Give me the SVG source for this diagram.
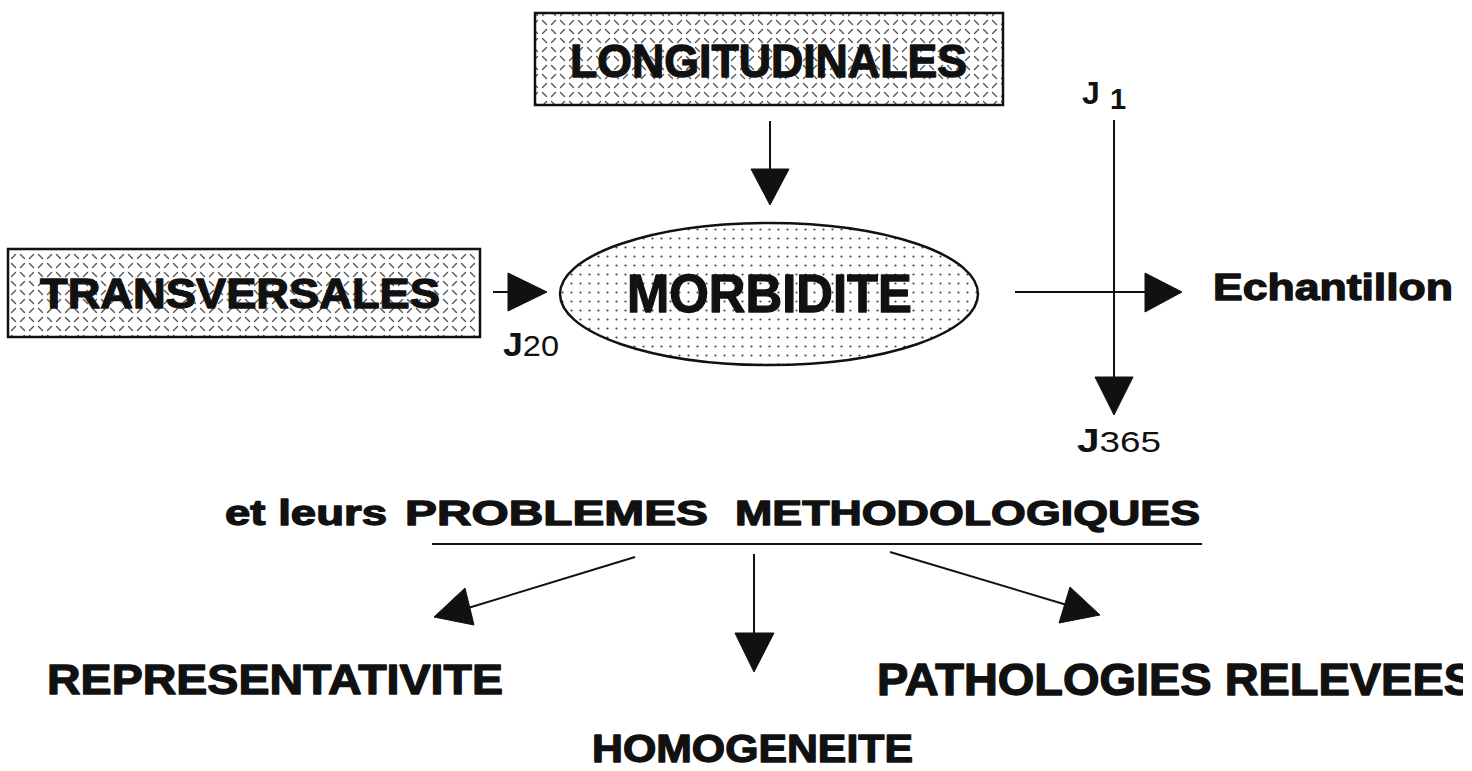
<svg xmlns="http://www.w3.org/2000/svg" width="1472" height="771" viewBox="0 0 1472 771">
<style>
.t{font-family:"Liberation Sans",Arial,sans-serif;font-weight:bold;fill:#111;stroke:#111;stroke-width:1.3;stroke-linejoin:round}
.j{font-family:"Liberation Sans",Arial,sans-serif;font-weight:bold;fill:#111}
.box{stroke:#111;stroke-width:2.5}
.ln{stroke:#111;stroke-width:2;fill:none}
.ah{fill:#111;stroke:#111;stroke-width:1;stroke-linejoin:miter}
</style>
<defs>
<pattern id="plate" width="18" height="18" patternUnits="userSpaceOnUse">
<rect width="18" height="18" fill="#fff"/>
<g stroke="#555" stroke-width="1.4" stroke-linecap="round">
<line x1="2.5" y1="2.5" x2="6.5" y2="6.5"/>
<line x1="15.5" y1="2.5" x2="11.5" y2="6.5"/>
<line x1="6.5" y1="11.5" x2="2.5" y2="15.5"/>
<line x1="11.5" y1="11.5" x2="15.5" y2="15.5"/>
</g>
</pattern>
<pattern id="dots" width="9" height="9" patternUnits="userSpaceOnUse">
<rect width="9" height="9" fill="#fff"/>
<circle cx="4.5" cy="4.5" r="1.1" fill="#444"/>
</pattern>
<clipPath id="edge"><rect x="0" y="0" width="1463" height="771"/></clipPath>
</defs>

<g id="longitudinales">
<rect class="box" x="535" y="13" width="468" height="92" fill="url(#plate)"/>
<text class="t" x="570" y="77" font-size="47" textLength="397" lengthAdjust="spacingAndGlyphs">LONGITUDINALES</text>
</g>

<g id="transversales">
<rect class="box" x="8" y="249" width="472" height="88" fill="url(#plate)"/>
<text class="t" x="40" y="308" font-size="43" textLength="400" lengthAdjust="spacingAndGlyphs">TRANSVERSALES</text>
</g>

<g id="morbidite">
<ellipse cx="769" cy="294" rx="209" ry="71" fill="url(#dots)" stroke="#111" stroke-width="2.5"/>
<text class="t" x="627" y="312" font-size="54" textLength="285" lengthAdjust="spacingAndGlyphs">MORBIDITE</text>
</g>

<g id="echantillon">
<text class="t" x="1213" y="300" font-size="36" textLength="240" lengthAdjust="spacingAndGlyphs">Echantillon</text>
</g>

<g id="labels-j">
<text class="j" x="503" y="356" font-size="33" textLength="56" lengthAdjust="spacingAndGlyphs">J<tspan font-weight="normal" font-size="30">20</tspan></text>
<text class="j" x="1082" y="104" font-size="32">J</text>
<text class="j" x="1110" y="109" font-size="29" font-weight="normal">1</text>
<text class="j" x="1077" y="452" font-size="33" textLength="84" lengthAdjust="spacingAndGlyphs">J<tspan font-weight="normal" font-size="30">365</tspan></text>
</g>

<g id="problemes">
<text class="t" x="225" y="525" font-size="35" textLength="162" lengthAdjust="spacingAndGlyphs">et leurs</text>
<text class="t" x="405" y="525" font-size="35" textLength="303" lengthAdjust="spacingAndGlyphs">PROBLEMES</text>
<text class="t" x="735" y="525" font-size="35" textLength="465" lengthAdjust="spacingAndGlyphs">METHODOLOGIQUES</text>
<line class="ln" x1="432" y1="544" x2="1202" y2="544"/>
</g>

<g id="representativite">
<text class="t" x="47" y="694" font-size="43" textLength="456" lengthAdjust="spacingAndGlyphs">REPRESENTATIVITE</text>
</g>

<g id="pathologies" clip-path="url(#edge)">
<text class="t" x="877" y="695" font-size="44" textLength="598" lengthAdjust="spacingAndGlyphs">PATHOLOGIES RELEVEES</text>
</g>

<g id="homogeneite">
<text class="t" x="592" y="762" font-size="39" textLength="321" lengthAdjust="spacingAndGlyphs">HOMOGENEITE</text>
</g>

<g id="connectors">
<line class="ln" x1="770" y1="121" x2="770" y2="170"/>
<polygon class="ah" points="751,169 789,169 770,205"/>

<line class="ln" x1="493" y1="292" x2="510" y2="292"/>
<polygon class="ah" points="508,273 508,311 547,292"/>

<line class="ln" x1="1114" y1="120" x2="1114" y2="379"/>
<polygon class="ah" points="1095,377 1133,377 1114,415"/>

<line class="ln" x1="1015" y1="292" x2="1147" y2="292"/>
<polygon class="ah" points="1145,273 1145,312 1182,292"/>

<line class="ln" x1="635" y1="557" x2="468" y2="608"/>
<polygon class="ah" points="465,588 474,625 434,617"/>

<line class="ln" x1="754" y1="554" x2="754" y2="635"/>
<polygon class="ah" points="735,633 774,633 754,672"/>

<line class="ln" x1="890" y1="552" x2="1067" y2="605"/>
<polygon class="ah" points="1070,587 1059,623 1100,615"/>
</g>
</svg>
